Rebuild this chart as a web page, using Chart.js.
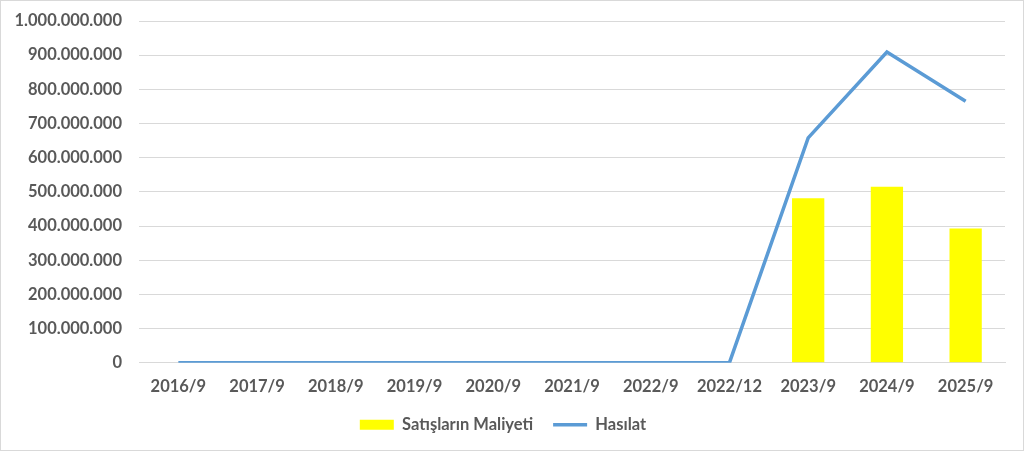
<!DOCTYPE html>
<html>
<head>
<meta charset="utf-8">
<script src="https://cdn.jsdelivr.net/npm/chart.js@4"></script>
<style>
  html, body { margin: 0; padding: 0; background: #fff; }
  #kutu { position: relative; width: 1022px; height: 449px; border: 1px solid #d9d9d9; }
</style>
</head>
<body>
<div id="kutu"><canvas id="grafik"></canvas></div>
<script>
// Dönemler ve değerler (resimden okunan tahmini değerler)
const donemler = ['2016/9', '2017/9', '2018/9', '2019/9', '2020/9', '2021/9', '2022/9', '2022/12', '2023/9', '2024/9', '2025/9'];
const satislarinMaliyeti = [null, null, null, null, null, null, null, null, 481000000, 515000000, 393000000];
const hasilat = [0, 0, 0, 0, 0, 0, 0, 0, 658000000, 909000000, 765000000];

const yaziRengi = '#595959';
const cizgiRengi = '#d9d9d9';
const yazi = { family: 'Lato', size: 16.5, weight: 'bold' };

// Sayıları 1.000.000 biçiminde yaz
const binlikAyir = (v) => Math.round(v).toString().replace(/\B(?=(\d{3})+(?!\d))/g, '.');

new Chart(document.getElementById('grafik'), {
    type: 'bar',
    data: {
        labels: donemler,
        datasets: [
            {
                type: 'bar',
                label: 'Satışların Maliyeti',
                data: satislarinMaliyeti,
                backgroundColor: '#ffff00',
                categoryPercentage: 1,
                barPercentage: 0.41,
                order: 2
            },
            {
                type: 'line',
                label: 'Hasılat',
                data: hasilat,
                borderColor: '#5b9bd5',
                backgroundColor: '#5b9bd5',
                borderWidth: 3.5,
                pointRadius: 0,
                tension: 0,
                order: 1
            }
        ]
    },
    options: {
        responsive: true,
        maintainAspectRatio: false,
        animation: false,
        layout: { padding: { top: 0, right: 18, bottom: 7, left: 0 } },
        plugins: {
            tooltip: { enabled: false },
            legend: {
                position: 'bottom',
                labels: {
                    color: yaziRengi,
                    font: yazi,
                    usePointStyle: true,
                    pointStyleWidth: 34,
                    boxHeight: 10,
                    padding: 20,
                    generateLabels: (chart) => chart.data.datasets.map((ds, i) => ({
                        text: ds.label,
                        fillStyle: ds.backgroundColor,
                        strokeStyle: ds.type === 'line' ? ds.borderColor : ds.backgroundColor,
                        lineWidth: ds.type === 'line' ? 3.5 : 0,
                        pointStyle: ds.type === 'line' ? 'line' : 'rect',
                        fontColor: yaziRengi,
                        datasetIndex: i
                    }))
                }
            }
        },
        scales: {
            x: {
                // lejant boşluğunu telafi etmek için eksen yüksekliğini kısalt
                afterFit: (scale) => { scale.height -= 14; },
                grid: { display: false, drawTicks: false },
                border: { color: cizgiRengi },
                ticks: {
                    color: yaziRengi,
                    font: yazi,
                    padding: 14,
                    maxRotation: 0
                }
            },
            y: {
                min: 0,
                max: 1000000000,
                afterFit: (scale) => {
                    // genişlik sabit, üst/alt boşluğu etiket dolgusundan ayır
                    scale.width = 138;
                    scale.paddingTop = 20;
                    scale.paddingBottom = 0;
                },
                grid: { color: cizgiRengi, drawTicks: false },
                border: { display: false },
                ticks: {
                    stepSize: 100000000,
                    color: yaziRengi,
                    font: yazi,
                    padding: 17,
                    callback: (v) => binlikAyir(v)
                }
            }
        }
    }
});
</script>
</body>
</html>
